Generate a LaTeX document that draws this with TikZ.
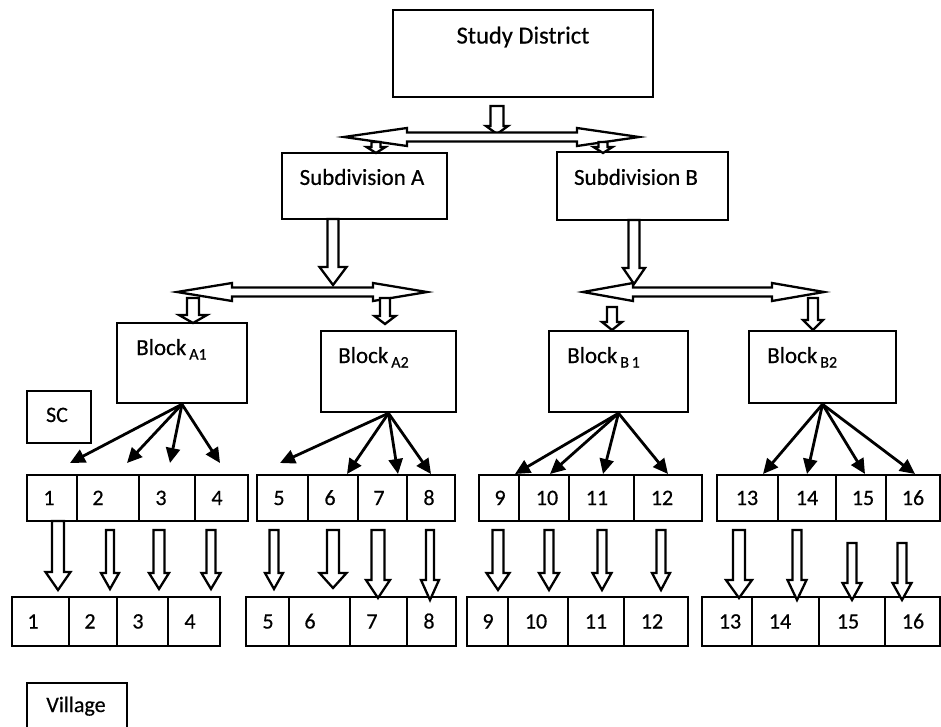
\documentclass[tikz,border=0pt]{standalone}
\usepackage{fontspec}
\setmainfont{Carlito}[FakeBold=0.5]
\newfontfamily\heavyfont{Carlito}[FakeBold=0.5]
\usetikzlibrary{arrows.meta}
\newcommand\hdown[6]{% cx, top, headstart, tip, shaft half, head half
  \draw[blockarrow] (#1-#5,#2) -- (#1-#5,#3) -- (#1-#6,#3) -- (#1,#4) -- (#1+#6,#3) -- (#1+#5,#3) -- (#1+#5,#2) -- cycle;}
\newcommand\hdouble[7]{% xl, xr, yc, shaft half, head half, head len left, head len right
  \draw[blockarrow] (#1,#3) -- (#1+#6,#3-#5) -- (#1+#6,#3-#4) -- (#2-#7,#3-#4) -- (#2-#7,#3-#5) -- (#2,#3) -- (#2-#7,#3+#5) -- (#2-#7,#3+#4) -- (#1+#6,#3+#4) -- (#1+#6,#3+#5) -- cycle;}
\newcommand\cellbox[7]{% name, x1, x2, ytop, ybot, labelx, text
  \node[cell, minimum width={(#3-#2)*1pt}, minimum height={(#5-#4)*1pt}] (#1) at ({(#2+#3)/2},{(#4+#5)/2}) {};
  \node[numtxt] (#1t) at (#6,{(#4+#5)/2}) {#7};}
\newcommand\blocklabel[4]{% name, x, baseline, sub
  \node[anchor=base west, inner sep=0, font=\heavyfont\fontsize{23}{26}\selectfont] (#1) at (#2,#3) {Block\kern3pt\raisebox{-4.5pt}{\fontsize{16}{18}\selectfont #4}};}
\begin{document}
\begin{tikzpicture}[x=1pt,y=-1pt,
  box/.style={draw, line width=2.5pt, inner sep=0pt},
  cell/.style={draw, line width=2.2pt, inner sep=0pt},
  blockarrow/.style={draw, line width=2.3pt, fill=white, line join=miter},
  fan/.style={line width=2.8pt, -{Triangle[length=15pt,width=14pt]}},
  numtxt/.style={inner sep=0pt, text height=14pt, text depth=0pt, font=\heavyfont\fontsize{22}{24}\selectfont},
  bigtxt/.style={inner sep=0pt, font=\heavyfont\fontsize{24.5}{28}\selectfont},
  midtxt/.style={inner sep=0pt, font=\heavyfont\fontsize{23}{26}\selectfont}]
\useasboundingbox (0,0) rectangle (941,727);
\clip (0,0) rectangle (941,727);

% main boxes
\node[box, minimum width=260pt, minimum height=87pt] (sd) at (523,53.5) {};
\node[bigtxt] (sdt) at (523,37) {Study District};
\node[box, minimum width=165pt, minimum height=66pt] (subA) at (364.5,186) {};
\node[midtxt] (subAt) at (362,177) {Subdivision A};
\node[box, minimum width=171pt, minimum height=68pt] (subB) at (642.5,186) {};
\node[midtxt] (subBt) at (636,177) {Subdivision B};

\node[box, minimum width=130pt, minimum height=80pt] (bA1) at (182,363) {};
\blocklabel{bA1t}{136}{355}{A1}
\node[box, minimum width=135pt, minimum height=81pt] (bA2) at (388.5,371.5) {};
\blocklabel{bA2t}{338}{363}{A2}
\node[box, minimum width=139pt, minimum height=81pt] (bB1) at (618.5,371.5) {};
\blocklabel{bB1t}{567}{363}{B\,1}
\node[box, minimum width=147pt, minimum height=72pt] (bB2) at (822.5,367) {};
\blocklabel{bB2t}{767}{363}{B2}

\node[box, minimum width=64pt, minimum height=52pt] (sc) at (59,417) {};
\node[numtxt] (sct) at (57,415) {SC};
\node[box, minimum width=100pt, minimum height=62pt] (vil) at (77,714) {};
\node[numtxt, text depth=4pt] (vilt) at (76,707) {Village};

% hollow block arrows, top levels
\hdown{497}{106}{126}{134}{6.5}{11}
\hdouble{344}{639}{137}{4.5}{9}{63}{62}
\hdown{376}{142}{147}{153}{4.5}{9.5}
\hdown{603}{142}{147}{153}{4.5}{9.5}

\hdown{333}{219}{267}{285}{5.5}{13.5}
\hdown{634}{220}{268}{284}{5.5}{11}
\hdouble{177}{427}{292}{4.5}{9}{55}{54}
\hdouble{583}{824}{292}{4.5}{9}{50}{52}
\hdown{193}{298}{315}{323}{6}{14}
\hdown{385}{298}{316}{324}{5}{10.5}
\hdown{612}{307}{322}{330}{5}{10}
\hdown{813}{298}{320}{330}{5}{10}

% SC row
\cellbox{s1}{27}{77}{475}{521}{49}{1}
\cellbox{s2}{77}{139}{475}{521}{98}{2}
\cellbox{s3}{139}{195}{475}{521}{161}{3}
\cellbox{s4}{195}{248}{475}{521}{217}{4}
\cellbox{s5}{257}{308}{475}{521}{279}{5}
\cellbox{s6}{308}{358}{475}{521}{330}{6}
\cellbox{s7}{358}{407}{475}{521}{379}{7}
\cellbox{s8}{407}{455}{475}{521}{429}{8}
\cellbox{s9}{479}{519}{475}{521}{500}{9}
\cellbox{s10}{519}{569}{475}{521}{547}{10}
\cellbox{s11}{569}{634}{475}{521}{597}{11}
\cellbox{s12}{634}{702}{475}{521}{662}{12}
\cellbox{s13}{717}{778}{475}{521}{747}{13}
\cellbox{s14}{778}{836}{475}{521}{807}{14}
\cellbox{s15}{836}{886}{475}{521}{863}{15}
\cellbox{s16}{886}{940}{475}{521}{913}{16}

% Village row
\cellbox{v1}{12}{69}{597}{646}{33}{1}
\cellbox{v2}{69}{117}{597}{646}{90}{2}
\cellbox{v3}{117}{168}{597}{646}{138}{3}
\cellbox{v4}{168}{220}{597}{646}{190}{4}
\cellbox{v5}{246}{289}{597}{646}{268}{5}
\cellbox{v6}{289}{350}{597}{646}{310}{6}
\cellbox{v7}{350}{407}{597}{646}{372}{7}
\cellbox{v8}{407}{456}{597}{646}{429}{8}
\cellbox{v9}{467}{508}{597}{646}{488}{9}
\cellbox{v10}{508}{568}{597}{646}{536}{10}
\cellbox{v11}{568}{624}{597}{646}{596}{11}
\cellbox{v12}{624}{688}{597}{646}{652}{12}
\cellbox{v13}{702}{752}{597}{646}{730}{13}
\cellbox{v14}{752}{819}{597}{646}{780}{14}
\cellbox{v15}{819}{885}{597}{646}{848}{15}
\cellbox{v16}{885}{940}{597}{646}{913}{16}

% fan arrows
\coordinate (tA1a) at (70,463);  \coordinate (tA1b) at (127,463);
\coordinate (tA1c) at (170,463); \coordinate (tA1d) at (220,463);
\coordinate (tA2a) at (280,463); \coordinate (tA2b) at (347,474);
\coordinate (tA2c) at (398,474); \coordinate (tA2d) at (431,474);
\coordinate (tB1a) at (515,474); \coordinate (tB1b) at (550,474);
\coordinate (tB1c) at (603,474); \coordinate (tB1d) at (668,474);
\coordinate (tB2a) at (763,474); \coordinate (tB2b) at (807,474);
\coordinate (tB2c) at (865,474); \coordinate (tB2d) at (915,474);
\foreach \b in {A1,A2,B1,B2}{
  \foreach \t in {a,b,c,d}{
    \draw[fan] (b\b.south) -- (t\b\t);
  }
}

% hollow arrows SC -> Village
\hdown{58}{521}{572}{590}{6}{12.5}
\hdown{110}{530}{573}{589}{4}{9}
\hdown{159}{530}{573}{589}{5.5}{10}
\hdown{211}{530}{573}{589}{4.5}{9.5}
\hdown{274}{530}{573}{589}{4.5}{9}
\hdown{333}{530}{573}{588}{6}{13.5}
\hdown{378}{530}{580}{598}{6.5}{12}
\hdown{430}{530}{580}{600}{4}{9}
\hdown{498}{530}{573}{590}{5.5}{11.5}
\hdown{549}{530}{573}{590}{4.5}{10}
\hdown{602}{530}{573}{590}{4.5}{9.5}
\hdown{661}{530}{573}{590}{4.5}{9}
\hdown{739}{530}{580}{598}{6}{13}
\hdown{797}{530}{580}{600}{4.5}{9.5}
\hdown{852}{543}{583}{600}{4.5}{9.5}
\hdown{902}{543}{583}{600}{4.5}{9.5}
\end{tikzpicture}
\end{document}
